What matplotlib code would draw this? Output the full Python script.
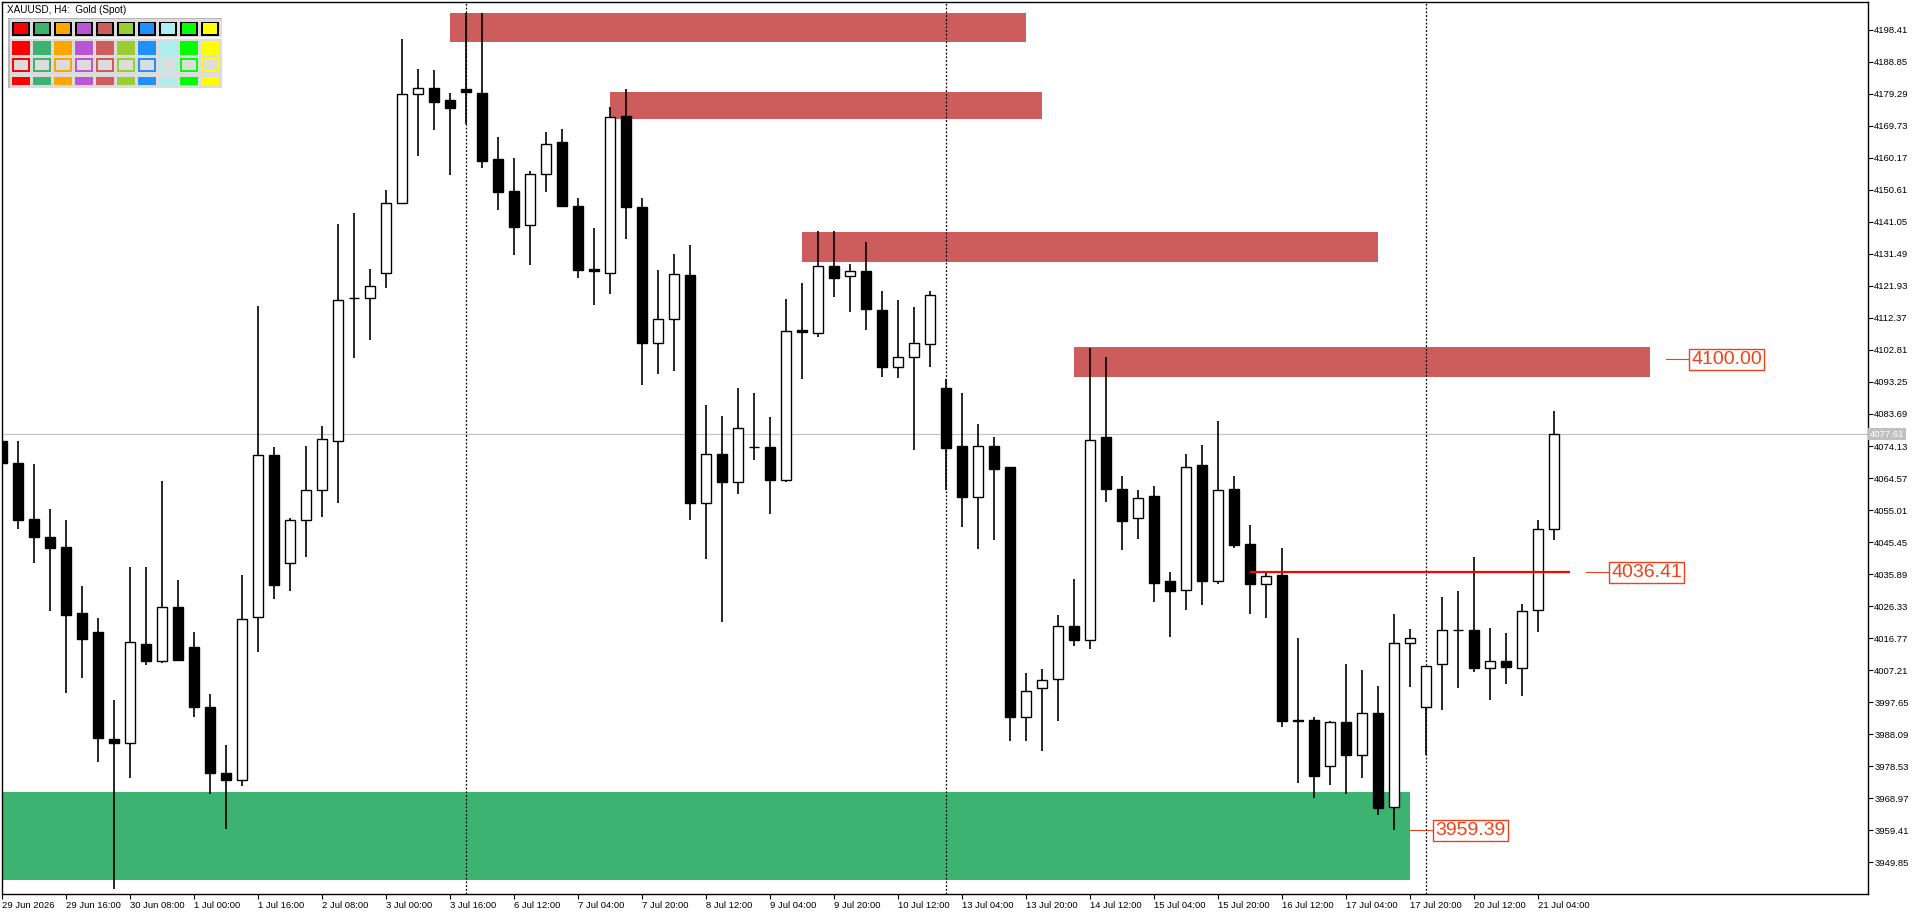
import matplotlib
matplotlib.use("Agg")
import matplotlib.pyplot as plt
from matplotlib.patches import Rectangle
import numpy as np

# ------------------------------------------------------------
# data (XAUUSD H4)
# ------------------------------------------------------------
opens = [4075.7, 4069.0, 4052.3, 4047.0, 4044.0, 4024.2, 4018.5, 3986.6, 3985.6, 4015.0,
         4009.8, 4026.2, 4014.0, 3996.2, 3976.6, 3974.3, 4023.1, 4071.3, 4039.3, 4052.1,
         4060.9, 4075.7, 4118.2, 4118.2, 4125.7, 4146.8, 4179.2, 4181.1, 4177.5, 4180.7,
         4179.5, 4159.9, 4150.4, 4140.0, 4155.3, 4164.9, 4145.8, 4127.0, 4125.9, 4172.5,
         4145.4, 4105.0, 4111.9, 4125.2, 4057.1, 4071.8, 4063.5, 4073.9, 4073.9, 4064.0,
         4108.7, 4107.8, 4128.0, 4124.9, 4126.3, 4114.7, 4097.8, 4100.6, 4104.5, 4091.3,
         4074.1, 4058.8, 4074.1, 4067.9, 3993.3, 4002.0, 4004.5, 4020.5, 4016.1, 4076.7,
         4061.4, 4052.6, 4059.1, 4033.7, 4031.2, 4068.4, 4033.7, 4061.2, 4044.9, 4033.0,
         4035.6, 3992.2, 3992.2, 3978.5, 3991.7, 3982.0, 3994.3, 3966.5, 4015.2, 3996.2,
         4009.0, 4019.1, 4019.1, 4008.0, 4009.8, 4008.0, 4025.3, 4049.5]
highs = [4077.1, 4075.7, 4068.7, 4055.3, 4051.9, 4032.3, 4022.8, 3998.2, 4037.9, 4037.9,
         4063.7, 4034.0, 4018.5, 4000.1, 3984.8, 4035.6, 4115.9, 4073.7, 4052.5, 4074.1,
         4080.0, 4140.3, 4143.8, 4127.1, 4150.6, 4195.6, 4186.7, 4186.4, 4179.4, 4203.4,
         4203.4, 4166.3, 4160.0, 4156.3, 4167.9, 4168.8, 4148.2, 4139.1, 4175.3, 4180.6,
         4148.2, 4126.6, 4131.4, 4134.0, 4086.5, 4083.0, 4091.3, 4090.1, 4082.7, 4118.0,
         4122.8, 4138.2, 4138.2, 4128.5, 4134.9, 4120.3, 4117.7, 4115.6, 4120.3, 4094.0,
         4090.0, 4080.6, 4076.7, 4067.9, 4006.4, 4007.6, 4023.6, 4034.4, 4103.4, 4100.6,
         4065.1, 4060.9, 4062.1, 4036.5, 4071.6, 4074.3, 4081.5, 4065.1, 4050.5, 4036.5,
         4043.7, 4016.8, 3993.1, 3992.0, 4009.0, 4007.4, 4002.4, 4024.0, 4019.6, 4008.5,
         4029.1, 4030.8, 4040.9, 4019.8, 4018.2, 4027.0, 4052.0, 4084.6]
lows = [4068.1, 4049.4, 4039.1, 4024.8, 4000.3, 4005.0, 3979.9, 3942.0, 3975.1, 4008.7,
        4009.3, 4009.8, 3993.1, 3970.3, 3959.8, 3972.7, 4012.6, 4028.6, 4030.7, 4041.0,
        4053.0, 4057.1, 4100.3, 4105.7, 4121.2, 4146.5, 4160.6, 4168.6, 4155.1, 4170.2,
        4157.2, 4144.7, 4131.2, 4128.3, 4150.1, 4145.4, 4124.4, 4116.3, 4119.6, 4135.8,
        4092.2, 4095.7, 4096.4, 4052.1, 4040.5, 4021.7, 4059.7, 4070.0, 4053.9, 4063.5,
        4094.0, 4106.6, 4118.7, 4114.2, 4108.7, 4094.8, 4094.3, 4073.0, 4097.8, 4060.9,
        4050.0, 4043.5, 4046.1, 3986.2, 3986.2, 3983.2, 3991.9, 4014.5, 4013.6, 4057.4,
        4043.0, 4046.5, 4027.7, 4017.1, 4025.2, 4026.6, 4032.8, 4043.8, 4024.1, 4022.9,
        3990.1, 3973.6, 3969.0, 3972.9, 3970.3, 3975.0, 3963.9, 3959.5, 4002.2, 3982.0,
        3995.4, 4001.8, 4006.6, 3998.2, 4003.2, 3999.6, 4018.7, 4046.2]
closes = [4069.2, 4052.1, 4047.0, 4043.8, 4023.8, 4016.6, 3987.0, 3985.5, 4015.6, 4009.8,
          4026.2, 4010.3, 3996.2, 3976.6, 3974.5, 4022.6, 4071.3, 4032.5, 4051.9, 4060.9,
          4076.2, 4117.8, 4118.2, 4121.9, 4146.8, 4179.2, 4181.1, 4176.9, 4174.9, 4179.9,
          4159.3, 4150.1, 4139.6, 4155.3, 4164.2, 4145.9, 4126.8, 4126.4, 4172.3, 4145.4,
          4104.8, 4111.9, 4125.4, 4057.1, 4071.8, 4063.5, 4079.5, 4073.9, 4064.0, 4108.5,
          4108.1, 4128.0, 4124.2, 4126.4, 4115.0, 4097.8, 4100.6, 4104.8, 4119.1, 4073.6,
          4058.8, 4074.1, 4067.4, 3993.1, 4001.1, 4004.3, 4020.5, 4016.1, 4076.0, 4061.4,
          4051.8, 4058.6, 4033.3, 4030.9, 4067.9, 4033.7, 4060.9, 4044.5, 4033.0, 4035.4,
          3991.9, 3992.0, 3975.5, 3991.7, 3982.0, 3994.3, 3966.0, 4015.2, 4016.8, 4008.5,
          4019.1, 4019.1, 4007.8, 4009.8, 4008.3, 4024.9, 4049.5, 4077.61]

x_tick_bars = [0, 4, 8, 12, 16, 20, 24, 28, 32, 36, 40, 44, 48, 52, 56, 60,
               64, 68, 72, 76, 80, 84, 88, 92, 96]
x_tick_labels = ["29 Jun 2026", "29 Jun 16:00", "30 Jun 08:00", "1 Jul 00:00", "1 Jul 16:00",
                 "2 Jul 08:00", "3 Jul 00:00", "3 Jul 16:00", "6 Jul 12:00", "7 Jul 04:00",
                 "7 Jul 20:00", "8 Jul 12:00", "9 Jul 04:00", "9 Jul 20:00", "10 Jul 12:00",
                 "13 Jul 04:00", "13 Jul 20:00", "14 Jul 12:00", "15 Jul 04:00", "15 Jul 20:00",
                 "16 Jul 12:00", "17 Jul 04:00", "17 Jul 20:00", "20 Jul 12:00", "21 Jul 04:00"]
y_ticks = [3949.85, 3959.41, 3968.97, 3978.53, 3988.09, 3997.65, 4007.21, 4016.77, 4026.33,
           4035.89, 4045.45, 4055.01, 4064.57, 4074.13, 4083.69, 4093.25, 4102.81, 4112.37,
           4121.93, 4131.49, 4141.05, 4150.61, 4160.17, 4169.73, 4179.29, 4188.85, 4198.41]

week_separators = [29, 59, 89]

# supply zones (red) and demand zone (green)
supply_start = [28, 38, 50, 67]
supply_end = [64, 65, 86, 103]
supply_top = [4203.4, 4179.7, 4137.9, 4103.7]
supply_bottom = [4194.7, 4171.7, 4129.2, 4094.8]
demand_start, demand_end = -1, 88
demand_top, demand_bottom = 3970.75, 3944.65

level_price = 4036.41
level_start, level_end = 78, 98
current_price = 4077.61

palette = ["#FF0000", "#3CB371", "#FFA500", "#BA55D3", "#CD5C5C",
           "#9ACD32", "#1E90FF", "#AFEEEE", "#00FF00", "#FFFF00"]

# ------------------------------------------------------------
# figure
# ------------------------------------------------------------
W, H = 1920, 915
plt.rcParams["font.family"] = ["Liberation Sans", "DejaVu Sans"]
fig = plt.figure(figsize=(W / 100, H / 100), dpi=100)
ax = fig.add_axes([2 / W, 21 / H, 1866 / W, 892 / H])

n = len(opens)
idx = np.arange(n)
o = np.array(opens); c = np.array(closes)
hi = np.array(highs); lo = np.array(lows)
up = c >= o

ax.axhline(current_price, color="#C0C0C0", lw=0.8, zorder=1)

# zones
zone_col = "#CD5C5C"
for s, e, t, b in zip(supply_start, supply_end, supply_top, supply_bottom):
    ax.add_patch(Rectangle((s, b), e - s, t - b, color=zone_col, lw=0, zorder=1.5))
ax.add_patch(Rectangle((demand_start, demand_bottom), demand_end - demand_start,
                       demand_top - demand_bottom, color="#3CB371", lw=0, zorder=1.5))

for sx in week_separators:
    ax.axvline(sx, color="black", lw=0.9, ls=(0, (1.5, 1.5)), zorder=2)

# candles
ax.vlines(idx, lo, hi, color="black", lw=1.2, zorder=3)
bottoms = np.minimum(o, c)
heights = np.abs(c - o)
ax.bar(idx[up], heights[up], bottom=bottoms[up], width=0.62, facecolor="white",
       edgecolor="black", linewidth=1.0, zorder=4)
ax.bar(idx[~up], heights[~up], bottom=bottoms[~up], width=0.62, facecolor="black",
       edgecolor="black", linewidth=1.0, zorder=4)

# horizontal level
ax.hlines(level_price, level_start, level_end, color="#FF0000", lw=1.6, zorder=5)

# price tags
tag_col = "#F0401A"


def price_tag(x0, price, text):
    ax.plot([x0, x0 + 1.4], [price, price], color=tag_col, lw=0.8, zorder=5)
    ax.text(x0 + 1.55, price, text, color=tag_col, fontsize=14, ha="left", va="center",
            zorder=6, bbox=dict(boxstyle="square,pad=0.12", fc="white", ec=tag_col, lw=1))


price_tag(supply_end[3] + 1, 4100.00, "4100.00")
price_tag(level_end + 1, level_price, "%.2f" % level_price)
price_tag(demand_end, 3959.39, "3959.39")

# axes
ax.set_xlim(-0.02, 116.61)
ax.set_ylim(3940.39, 4206.68)
for sp in ax.spines.values():
    sp.set_linewidth(1.0)
    sp.set_color("black")

ax.yaxis.tick_right()
ax.set_yticks(y_ticks)
ax.set_yticklabels(["%.2f" % v for v in y_ticks])
ax.tick_params(axis="y", length=3.5, width=0.8, pad=1, labelsize=6.8, direction="out")
ax.set_xticks(x_tick_bars)
ax.set_xticklabels(x_tick_labels, ha="left")
ax.tick_params(axis="x", length=3.5, width=0.8, pad=1.5, labelsize=6.8, direction="out")

ax.text(1.001, current_price, "%.2f" % current_price, transform=ax.get_yaxis_transform(),
        color="white", fontsize=6.8, ha="left", va="center",
        bbox=dict(boxstyle="square,pad=0.15", fc="#C0C0C0", ec="none"))

fig.text(7 / W, 1 - 10 / H, "XAUUSD, H4:  Gold (Spot)", fontsize=7.2, va="center", ha="left")


# colour palette panel (top-left)
def px_rect(x, y, w, h, **kw):
    fig.add_artist(Rectangle((x / W, 1 - (y + h) / H), w / W, h / H,
                             transform=fig.transFigure, lw=0, **kw))


px_rect(8, 17.5, 214, 70, facecolor="#B8B8B8")
px_rect(10, 19.5, 212, 68, facecolor="#DCDCDC")
for k, col in enumerate(palette):
    x0 = 11.7 + 21 * k
    px_rect(x0, 22, 18.3, 14.3, facecolor="black")
    px_rect(x0 + 2, 23.5, 14.3, 10.3, facecolor=col)
    px_rect(x0, 40.7, 18.3, 14.3, facecolor=col)
    px_rect(x0, 58.3, 18.3, 13.4, facecolor=col)
    px_rect(x0 + 2, 60.3, 14.3, 9.4, facecolor="#DCDCDC")
    px_rect(x0, 76.7, 18.3, 8.3, facecolor=col)
px_rect(10, 37.5, 212, 1.2, facecolor="#F4F4F4")

fig.savefig("out.png", dpi=100, facecolor="white")
